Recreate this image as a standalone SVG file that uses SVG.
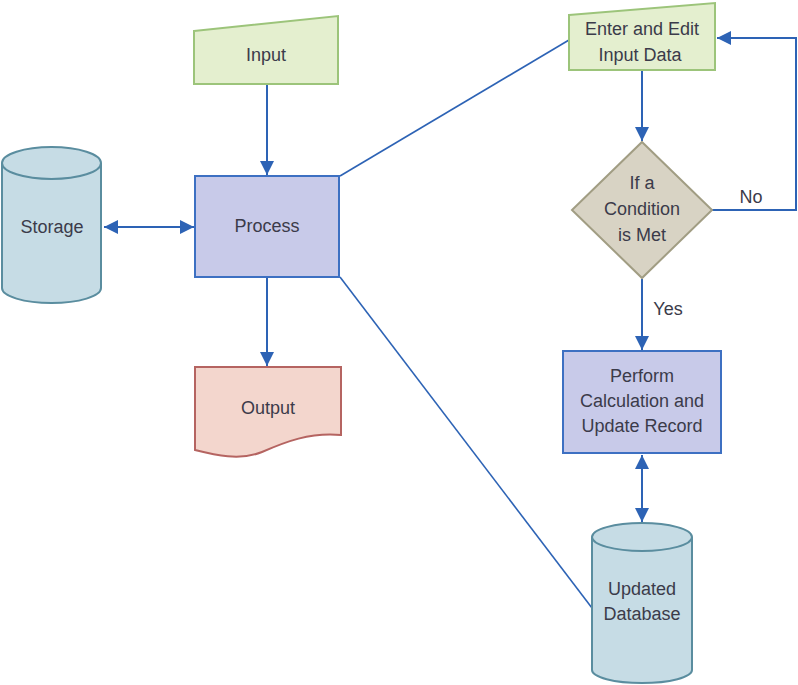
<svg xmlns="http://www.w3.org/2000/svg" width="798" height="685" viewBox="0 0 798 685">
<style>
  text { font-family: "Liberation Sans", Arial, sans-serif; font-size: 18px; fill: #3b3b4a; text-anchor: middle; }
  .conn { stroke: #2d63b5; stroke-width: 2; fill: none; }
  .thin { stroke: #2d63b5; stroke-width: 1.6; fill: none; }
  .green { fill: #e4efcf; stroke: #9cc47a; stroke-width: 2; }
  .blue { fill: #c8cae9; stroke: #3d70c2; stroke-width: 2; }
  .cyl { fill: #c6dce5; stroke: #5a8d9f; stroke-width: 2; }
  .red { fill: #f3d6cd; stroke: #b56461; stroke-width: 2; }
  .dia { fill: #d8d3c4; stroke: #a19d83; stroke-width: 2; }
</style>
<defs>
  <marker id="ah" viewBox="0 0 10 10" refX="10" refY="5" markerWidth="14" markerHeight="14" markerUnits="userSpaceOnUse" orient="auto-start-reverse">
    <path d="M0,0 L10,5 L0,10 Z" fill="#2d63b5"/>
  </marker>
</defs>
<rect width="798" height="685" fill="#ffffff"/>
<g id="connectors">
  <line class="conn" x1="267" y1="85" x2="267" y2="175" marker-end="url(#ah)"/>
  <line class="conn" x1="104" y1="227" x2="194" y2="227" marker-start="url(#ah)" marker-end="url(#ah)"/>
  <line class="conn" x1="267" y1="278" x2="267" y2="366" marker-end="url(#ah)"/>
  <line class="thin" x1="340" y1="176" x2="569" y2="40"/>
  <line class="thin" x1="340" y1="277" x2="592" y2="608"/>
  <line class="conn" x1="642" y1="71" x2="642" y2="141" marker-end="url(#ah)"/>
  <polyline class="conn" points="712,210 796,210 796,38 717,38" marker-end="url(#ah)"/>
  <line class="conn" x1="642" y1="279" x2="642" y2="350" marker-end="url(#ah)"/>
  <line class="conn" x1="642" y1="455" x2="642" y2="522" marker-start="url(#ah)" marker-end="url(#ah)"/>
  <text x="751" y="203">No</text>
  <text x="668" y="315">Yes</text>
</g>
<g id="input">
  <polygon class="green" points="194,31 338,16 338,84 194,84"/>
  <text x="266" y="61">Input</text>
</g>
<g id="storage">
  <path class="cyl" d="M2,163 L2,288 A49.5,15 0 0 0 101,288 L101,163"/>
  <ellipse class="cyl" cx="51.5" cy="163" rx="49.5" ry="16"/>
  <text x="52" y="233">Storage</text>
</g>
<g id="process">
  <rect class="blue" x="195" y="176" width="144" height="101"/>
  <text x="267" y="232">Process</text>
</g>
<g id="output">
  <path class="red" d="M195,367 L341,367 L341,435 C310,432 285,442 262,452 C240,461 215,455 195,450 Z"/>
  <text x="268" y="414">Output</text>
</g>
<g id="enter">
  <polygon class="green" points="569,15 715,3 715,70 569,70"/>
  <text x="642" y="35">Enter and Edit</text>
  <text x="640" y="61">Input Data</text>
</g>
<g id="condition">
  <polygon class="dia" points="642,142 712,210 642,278 572,210"/>
  <text x="642" y="189">If a</text>
  <text x="642" y="215">Condition</text>
  <text x="642" y="241">is Met</text>
</g>
<g id="perform">
  <rect class="blue" x="563" y="351" width="158" height="102"/>
  <text x="642" y="382">Perform</text>
  <text x="642" y="407">Calculation and</text>
  <text x="642" y="432">Update Record</text>
</g>
<g id="database">
  <path class="cyl" d="M592,537 L592,670 A50,13 0 0 0 692,670 L692,537"/>
  <ellipse class="cyl" cx="642" cy="537" rx="50" ry="14"/>
  <text x="642" y="595">Updated</text>
  <text x="642" y="620">Database</text>
</g>
</svg>
